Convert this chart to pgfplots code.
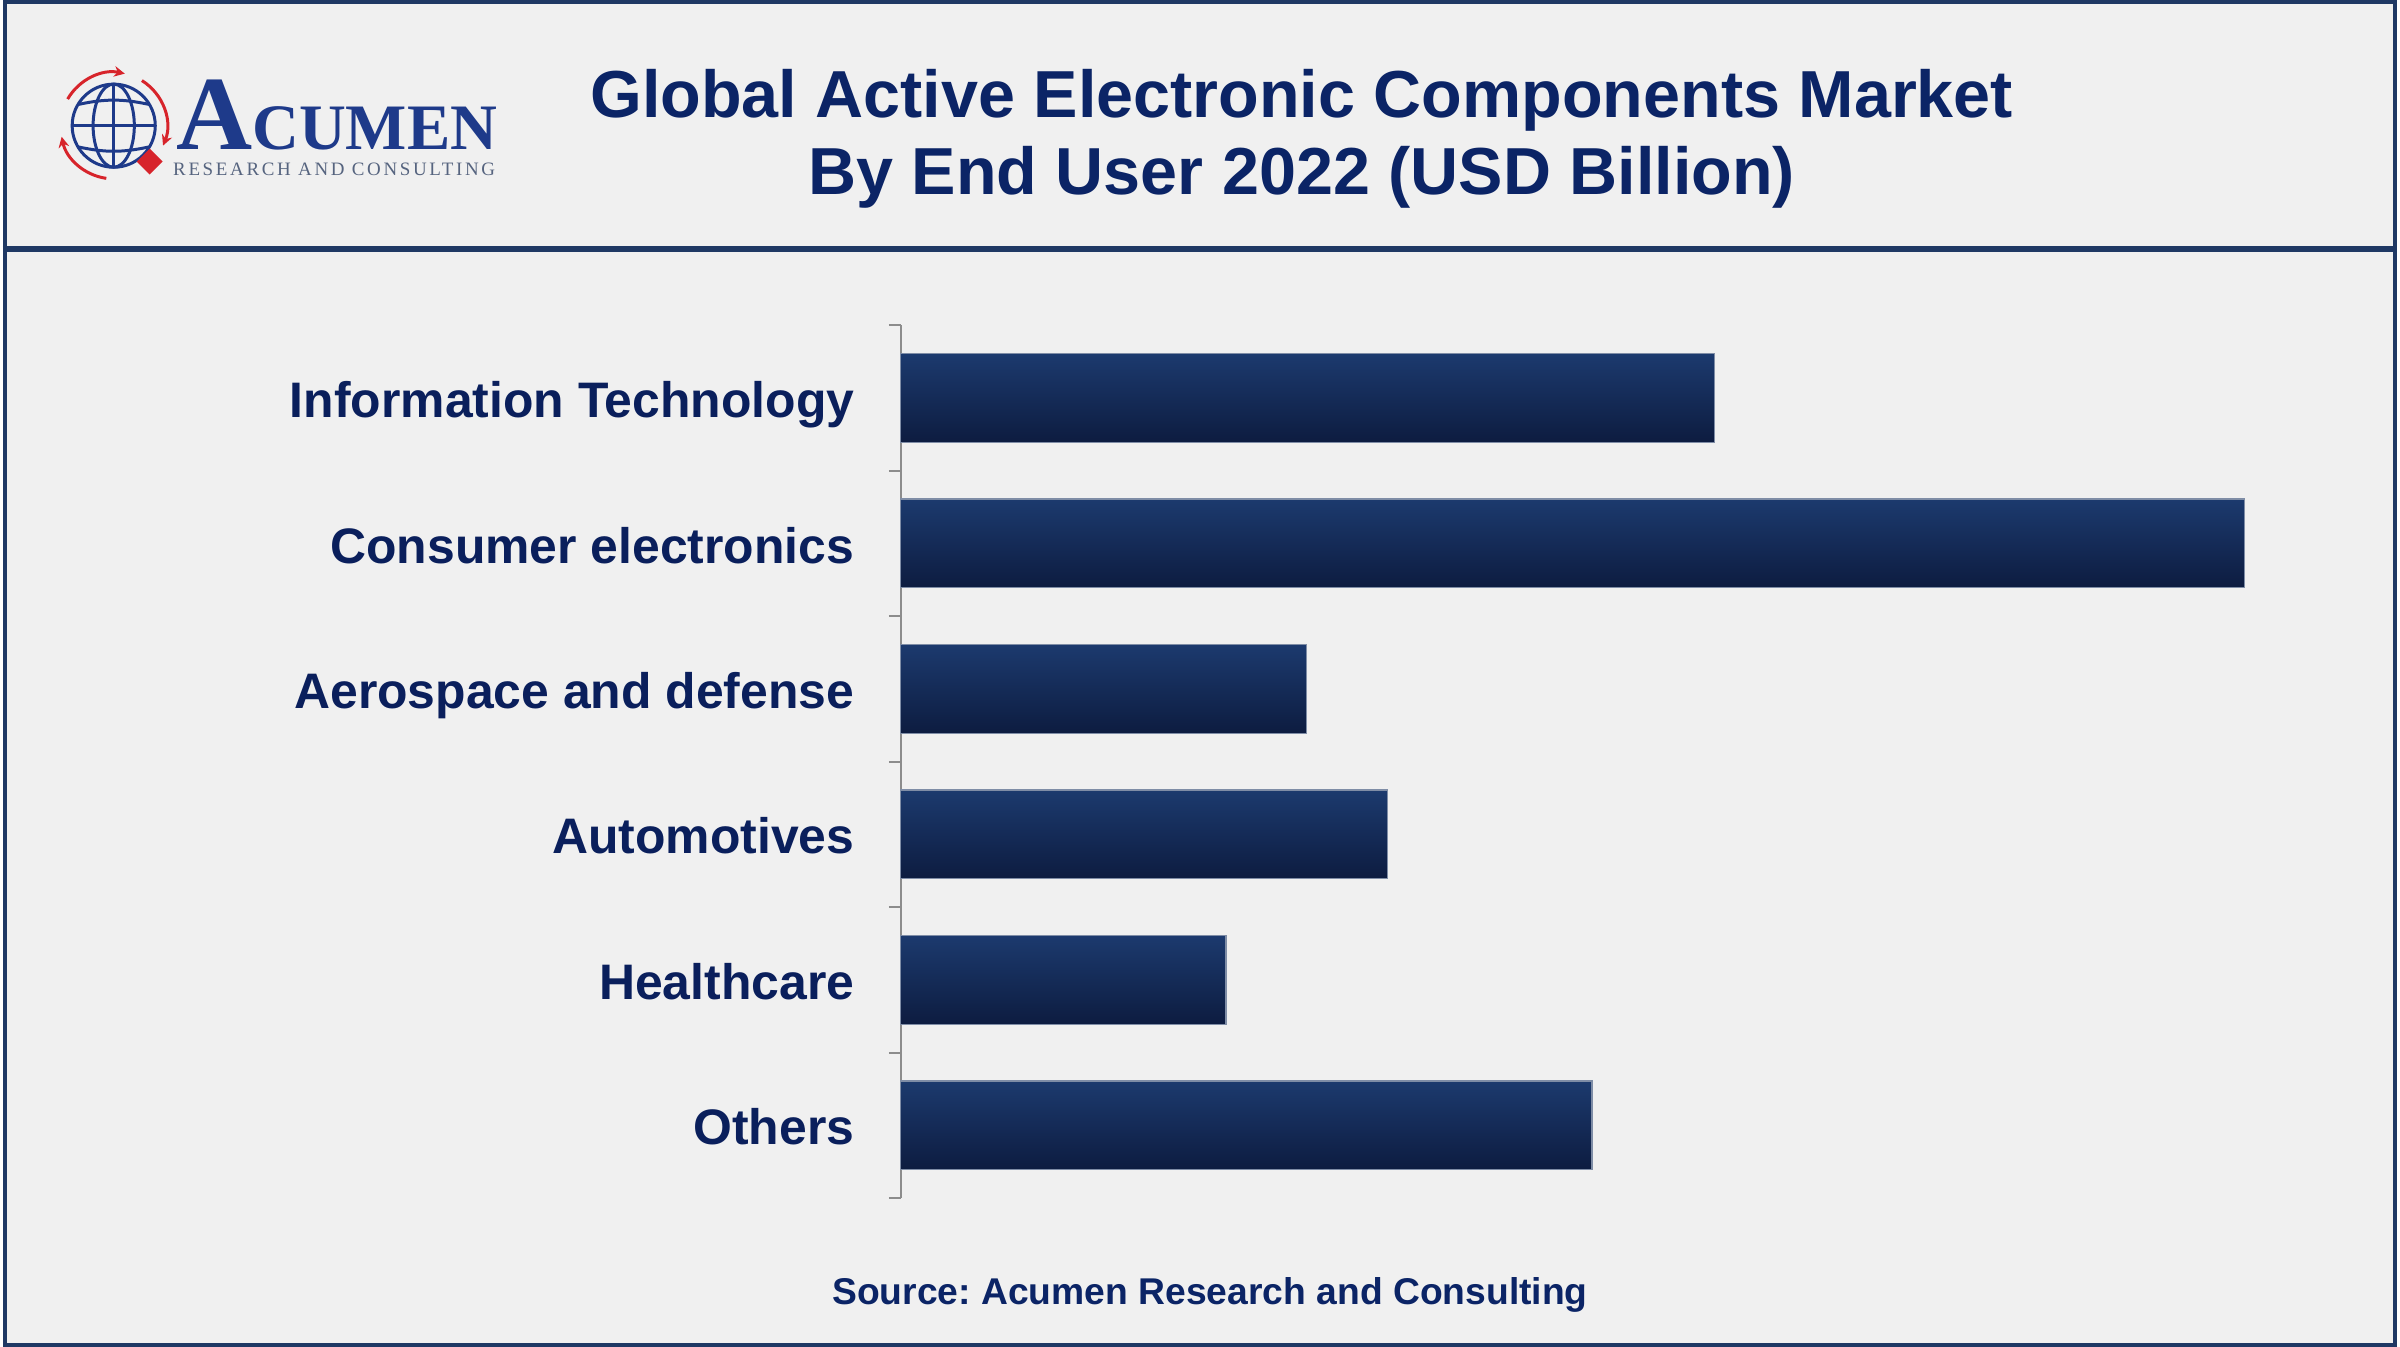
\documentclass[border=0pt]{standalone}
\usepackage{fontspec}
\setmainfont{Liberation Sans}
\newfontfamily\logoserif{Liberation Serif}
\usepackage{pgfplots}
\pgfplotsset{compat=1.18}
\usetikzlibrary{arrows.meta}
\definecolor{bgc}{HTML}{F0F0F0}
\definecolor{framec}{HTML}{1F3864}
\definecolor{titlec}{HTML}{0B2466}
\definecolor{labc}{HTML}{0A1F5C}
\definecolor{bartop}{HTML}{1C3A6E}
\definecolor{barbot}{HTML}{0D1C40}
\definecolor{barline}{HTML}{7F8DA6}
\definecolor{axgray}{HTML}{8C8C8C}
\definecolor{logoblue}{HTML}{1E3A8A}
\definecolor{logored}{HTML}{D7242B}
\definecolor{logogray}{HTML}{56647F}
\frenchspacing
\pgfplotsset{mybar/.style={xbar, bar width=26.7pt, bar shift=0pt, draw=barline, line width=0.4pt, top color=bartop, bottom color=barbot, mark=none}}
\begin{document}
\begin{tikzpicture}
\fill[bgc] (0,0) rectangle (720pt,405pt);
\draw[framec, line width=1.2pt] (0.6pt,0.6pt) rectangle (719.4pt,404.4pt);
\draw[framec, line width=1.8pt] (0,330pt) -- (720pt,330pt);
% logo
\begin{scope}[shift={(33.3pt,367.2pt)}]
  \begin{scope}[logoblue, line width=0.9pt]
    \draw (0,0) circle[radius=12.5pt];
    \draw (0,0) ellipse[x radius=6.2pt, y radius=12.5pt];
    \draw (0,12.5pt) -- (0,-12.5pt);
    \draw (-12.5pt,0) -- (12.5pt,0);
    \draw (-10.6pt,6.4pt) to[bend left=12] (10.6pt,6.4pt);
    \draw (-10.6pt,-6.4pt) to[bend right=12] (10.6pt,-6.4pt);
  \end{scope}
  \begin{scope}[logored, line width=0.9pt]
    \draw[-{Stealth[length=3.2pt,width=3.2pt]}] (150:16pt) arc[start angle=150, end angle=78, radius=16pt];
    \draw[-{Stealth[length=3.2pt,width=3.2pt]}] (58:16pt) arc[start angle=58, end angle=-22, radius=16pt];
    \draw[-{Stealth[length=3.2pt,width=3.2pt]}] (262:16pt) arc[start angle=262, end angle=192, radius=16pt];
    \fill (10.8pt,-6.9pt) -- (14.7pt,-10.8pt) -- (10.8pt,-14.7pt) -- (6.9pt,-10.8pt) -- cycle;
  \end{scope}
\end{scope}
\node[anchor=base west, inner sep=0pt, text depth=0pt, text=logoblue] at (51.9pt,360pt)
  {\logoserif\bfseries\fontsize{31.7}{32}\selectfont A\fontsize{19.5}{20}\selectfont CUMEN};
\node[anchor=base west, inner sep=0pt, text depth=0pt, text=logogray] at (51pt,352.2pt)
  {\logoserif\addfontfeature{LetterSpace=14}\fontsize{5.7}{6}\selectfont RESEARCH AND CONSULTING};
% title
\node[anchor=base, inner sep=0pt, text=titlec, font=\bfseries\fontsize{20}{23}\selectfont] at (390.6pt,369.6pt) {Global Active Electronic Components Market};
\node[anchor=base, inner sep=0pt, text=titlec, font=\bfseries\fontsize{20}{23}\selectfont] at (390.6pt,346.5pt) {By End User 2022 (USD Billion)};
% source
\node[anchor=base, inner sep=0pt, text=titlec, font=\bfseries\fontsize{11.2}{13}\selectfont] at (363pt,12.6pt) {Source: Acumen Research and Consulting};
\begin{axis}[
  at={(270pt,44.7pt)}, anchor=south west,
  scale only axis, width=420pt, height=262.5pt,
  xmin=0, xmax=140,
  ymin=-0.5, ymax=5.5, y dir=reverse,
  axis x line=none,
  axis y line*=left,
  axis line style={axgray, line width=0.6pt},
  ytick={0,1,2,3,4,5},
  yticklabels={Information Technology, Consumer electronics, Aerospace and defense, Automotives, Healthcare, Others},
  minor ytick={-0.5,0.5,1.5,2.5,3.5,4.5,5.5},
  major tick length=0pt,
  minor tick length=3.6pt,
  tick align=outside,
  minor tick style={axgray, line width=0.6pt},
  yticklabel style={font=\bfseries\fontsize{15}{18}\selectfont, text=labc, anchor=base east, inner sep=0pt, xshift=-13.8pt, yshift=-5.9pt},
  clip=false,
]
\addplot[mybar] coordinates {(81.6,0)};
\addplot[mybar] coordinates {(134.7,1)};
\addplot[mybar] coordinates {(40.7,2)};
\addplot[mybar] coordinates {(48.8,3)};
\addplot[mybar] coordinates {(32.6,4)};
\addplot[mybar] coordinates {(69.3,5)};
\end{axis}
\end{tikzpicture}
\end{document}
